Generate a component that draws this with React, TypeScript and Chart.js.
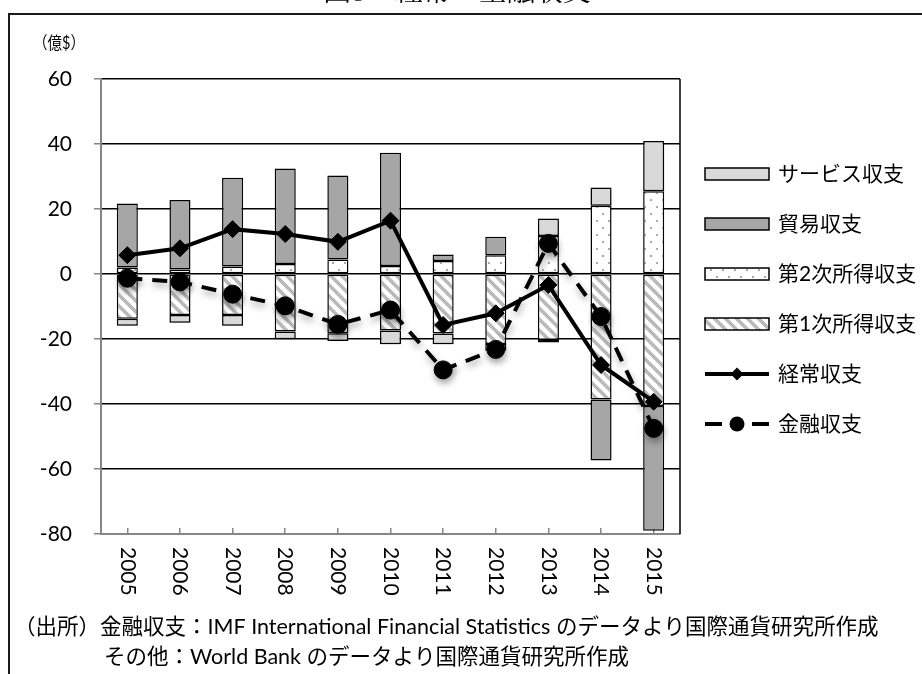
import React, { useEffect, useRef } from "react";
import { Chart, registerables } from "chart.js";

Chart.register(...registerables);

// ---- data (億ドル) ----
const years = ["2005", "2006", "2007", "2008", "2009", "2010", "2011", "2012", "2013", "2014", "2015"];
const primaryIncome = [-13.8, -12.6, -12.6, -17.7, -18.2, -17.4, -18.3, -21.5, -20.3, -38.6, -40.6]; // 第1次所得収支
const secondaryIncome = [2.0, 1.4, 2.3, 3.1, 4.5, 2.5, 4.0, 5.8, 11.7, 21.0, 25.5]; // 第2次所得収支
const tradeBalance = [19.7, 21.4, 27.3, 29.4, 25.8, 34.8, 2.0, 5.7, -0.8, -18.8, -38.4]; // 貿易収支
const servicesBalance = [-2.1, -2.4, -3.3, -2.4, -2.4, -4.2, -3.3, -2.1, 5.4, 5.6, 15.4]; // サービス収支
const currentAccount = [5.8, 7.9, 13.8, 12.3, 9.9, 16.4, -15.7, -12.1, -3.4, -28.0, -39.3]; // 経常収支
const financialAccount = [-1.3, -2.4, -6.2, -9.8, -15.5, -11.1, -29.5, -23.2, 9.4, -13.1, -47.5]; // 金融収支

const yMin = -80;
const yMax = 60;
const yStep = 20;

const seriesNames = ["第1次所得収支", "第2次所得収支", "貿易収支", "サービス収支", "経常収支", "金融収支"];
const titleText = "図5：経常・金融収支";
const unitText = "（億$）";
const sourceLines = [
  "（出所）金融収支：IMF International Financial Statistics のデータより国際通貨研究所作成",
  "その他：World Bank のデータより国際通貨研究所作成",
];

const FONT = 'Lato, "Noto Sans CJK JP", sans-serif';
const AXIS_GRAY = "#868686";

function makeHatch(): CanvasPattern {
  const s = 11;
  const c = document.createElement("canvas");
  c.width = s;
  c.height = s;
  const g = c.getContext("2d")!;
  g.fillStyle = "#ffffff";
  g.fillRect(0, 0, s, s);
  g.strokeStyle = "#b9b9b9";
  g.lineWidth = 3.5;
  for (const o of [-s, 0, s]) {
    g.beginPath();
    g.moveTo(o - 1, -1);
    g.lineTo(o + s + 1, s + 1);
    g.stroke();
  }
  return g.createPattern(c, "repeat")!;
}

function makeDots(): CanvasPattern {
  const w = 12;
  const h = 14;
  const c = document.createElement("canvas");
  c.width = w;
  c.height = h;
  const g = c.getContext("2d")!;
  g.fillStyle = "#ffffff";
  g.fillRect(0, 0, w, h);
  g.fillStyle = "#a8a8a8";
  g.fillRect(2, 3, 2, 2);
  g.fillRect(8, 10, 2, 2);
  return g.createPattern(c, "repeat")!;
}

function drawMarker(ctx: CanvasRenderingContext2D, kind: string, x: number, y: number, r: number) {
  ctx.beginPath();
  if (kind === "rectRot") {
    ctx.moveTo(x, y - r);
    ctx.lineTo(x + r, y);
    ctx.lineTo(x, y + r);
    ctx.lineTo(x - r, y);
    ctx.closePath();
  } else {
    ctx.arc(x, y, r, 0, Math.PI * 2);
  }
  ctx.fill();
}

const SHADOWED = [3, 5];

const decorations = {
  id: "decorations",
  beforeDatasetsDraw(chart: any) {
    const { ctx, chartArea } = chart;
    ctx.save();
    ctx.strokeStyle = "#000";
    ctx.lineWidth = 1.5;
    ctx.beginPath();
    ctx.moveTo(chartArea.right, chartArea.top);
    ctx.lineTo(chartArea.right, chartArea.bottom);
    ctx.stroke();
    ctx.restore();
  },
  beforeDatasetDraw(chart: any, args: any) {
    if (SHADOWED.includes(args.index)) {
      const ctx = chart.ctx;
      ctx.save();
      ctx.shadowColor = "rgba(0,0,0,0.35)";
      ctx.shadowBlur = 7;
      ctx.shadowOffsetX = 1;
      ctx.shadowOffsetY = 4;
    }
  },
  afterDatasetDraw(chart: any, args: any) {
    if (SHADOWED.includes(args.index)) chart.ctx.restore();
  },
  afterDraw(chart: any) {
    const { ctx } = chart;
    const xScale = chart.scales.x;
    ctx.save();

    // outer frame
    ctx.strokeStyle = "#1a1a1a";
    ctx.lineWidth = 2;
    ctx.beginPath();
    ctx.moveTo(9, 674);
    ctx.lineTo(9, 14);
    ctx.lineTo(922, 14);
    ctx.stroke();

    ctx.fillStyle = "#000";
    // title (runs off the top edge)
    ctx.font = `28px "Noto Serif CJK JP", "Noto Sans CJK JP", serif`;
    ctx.textAlign = "center";
    ctx.textBaseline = "alphabetic";
    ctx.fillText(titleText, 457, 1);

    // unit
    ctx.font = `17px ${FONT}`;
    ctx.textAlign = "left";
    ctx.textBaseline = "middle";
    ctx.fillText(unitText, 33, 44, 52);

    // category labels, rotated to read downward
    ctx.font = `21px ${FONT}`;
    const labels: string[] = chart.data.labels;
    labels.forEach((lab, i) => {
      const x = xScale.getPixelForValue(i);
      ctx.save();
      ctx.translate(x, xScale.top + 13);
      ctx.rotate(Math.PI / 2);
      ctx.textAlign = "left";
      ctx.textBaseline = "middle";
      ctx.fillText(lab, 0, 0);
      ctx.restore();
    });

    // legend
    const order = [3, 2, 1, 0, 4, 5];
    const lx = 705;
    const lw = 64;
    order.forEach((di, row) => {
      const ds = chart.data.datasets[di];
      const y = 174 + row * 50;
      if (ds.type === "line") {
        ctx.strokeStyle = "#000";
        ctx.fillStyle = "#000";
        ctx.lineWidth = 4;
        ctx.lineCap = "butt";
        ctx.beginPath();
        if (ds.borderDash && ds.borderDash.length) {
          ctx.moveTo(lx, y);
          ctx.lineTo(lx + 17, y);
          ctx.moveTo(lx + lw - 17, y);
          ctx.lineTo(lx + lw, y);
        } else {
          ctx.moveTo(lx, y);
          ctx.lineTo(lx + lw, y);
        }
        ctx.stroke();
        drawMarker(ctx, ds.pointStyle, lx + lw / 2, y, ds.pointStyle === "rectRot" ? 6.5 : 7.5);
      } else {
        ctx.fillStyle = ds.backgroundColor;
        ctx.fillRect(lx, y - 6, lw, 12);
        ctx.strokeStyle = "#000";
        ctx.lineWidth = 1.5;
        ctx.strokeRect(lx, y - 6, lw, 12);
      }
      ctx.fillStyle = "#000";
      ctx.font = `21px ${FONT}`;
      ctx.textAlign = "left";
      ctx.textBaseline = "middle";
      ctx.fillText(ds.label, 778, y);
    });

    // sources
    ctx.font = `21.5px ${FONT}`;
    ctx.textAlign = "left";
    ctx.textBaseline = "middle";
    ctx.fillText(sourceLines[0], 14, 627, 866);
    ctx.fillText(sourceLines[1], 104, 657);

    ctx.restore();
  },
};

export default function App() {
  const ref = useRef<HTMLCanvasElement>(null);

  useEffect(() => {
    const canvas = ref.current!;
    const hatch = makeHatch();
    const dots = makeDots();
    const barBase = {
      type: "bar" as const,
      borderColor: "#000",
      borderWidth: 1.5,
      borderSkipped: false as const,
      stack: "bop",
      order: 1,
      barPercentage: 0.5,
      categoryPercentage: 0.8,
    };
    const chart = new Chart(canvas, {
      type: "bar",
      data: {
        labels: years,
        datasets: [
          { ...barBase, label: seriesNames[0], data: primaryIncome, backgroundColor: hatch },
          { ...barBase, label: seriesNames[1], data: secondaryIncome, backgroundColor: dots },
          { ...barBase, label: seriesNames[2], data: tradeBalance, backgroundColor: "#a6a6a6" },
          { ...barBase, label: seriesNames[3], data: servicesBalance, backgroundColor: "#d9d9d9" },
          {
            type: "line",
            label: seriesNames[4],
            data: currentAccount,
            stack: "ca",
            order: 0,
            borderColor: "#000",
            borderWidth: 4,
            backgroundColor: "#000",
            pointStyle: "rectRot",
            pointRadius: 8.5,
            pointBackgroundColor: "#000",
            pointBorderColor: "#000",
            pointBorderWidth: 1,
            tension: 0,
            fill: false,
          },
          {
            type: "line",
            label: seriesNames[5],
            data: financialAccount,
            stack: "fa",
            order: 0,
            borderColor: "#000",
            borderWidth: 4,
            borderDash: [15, 10],
            backgroundColor: "#000",
            pointStyle: "circle",
            pointRadius: 9,
            pointBackgroundColor: "#000",
            pointBorderColor: "#000",
            pointBorderWidth: 1,
            tension: 0,
            fill: false,
          },
        ] as any,
      },
      options: {
        responsive: false,
        animation: false,
        devicePixelRatio: 1,
        layout: { padding: { top: 79, right: 242, bottom: 0, left: 0 } },
        plugins: { legend: { display: false }, tooltip: { enabled: false } },
        scales: {
          x: {
            stacked: true,
            offset: true,
            grid: {
              display: true,
              drawOnChartArea: false,
              drawTicks: true,
              tickLength: -6,
              offset: false,
              color: AXIS_GRAY,
              lineWidth: 1.5,
            },
            border: { display: true, color: AXIS_GRAY, width: 2 },
            ticks: { display: false },
            afterFit: (s: any) => {
              s.height = 140;
            },
          },
          y: {
            stacked: true,
            min: yMin,
            max: yMax,
            ticks: {
              stepSize: yStep,
              color: "#000",
              padding: 22,
              font: { family: FONT, size: 21 },
            },
            grid: {
              color: (c: any) => (c.tick && c.tick.value === yMin ? "rgba(0,0,0,0)" : "#000"),
              lineWidth: 1.5,
              drawTicks: true,
              tickLength: 7,
              tickColor: AXIS_GRAY,
            },
            border: { display: true, color: AXIS_GRAY, width: 2 },
            afterFit: (s: any) => {
              s.width = 101;
            },
          },
        },
      } as any,
      plugins: [decorations as any],
    });
    return () => chart.destroy();
  }, []);

  return (
    <div style={{ position: "absolute", left: 0, top: 0, width: 922, height: 674, background: "#fff" }}>
      <canvas ref={ref} width={922} height={674} style={{ display: "block", width: 922, height: 674 }} />
    </div>
  );
}
